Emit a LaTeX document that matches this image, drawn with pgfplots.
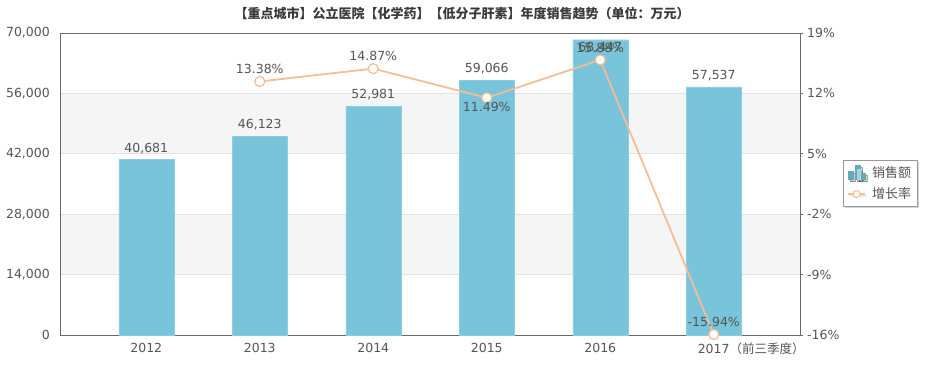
\documentclass[border=0pt]{standalone}
\usepackage{fontspec}
\setmainfont{DejaVu Sans}
\newfontfamily\cjk{Noto Sans CJK SC}
\usepackage{pgfplots}
\pgfplotsset{compat=1.18}
\usetikzlibrary{shadows}
\definecolor{barc}{HTML}{78C4DA}
\definecolor{linec}{HTML}{F5BD95}
\definecolor{txt}{HTML}{555555}
\definecolor{axc}{HTML}{6A6A6A}
\definecolor{gridc}{HTML}{E2E2E2}
\definecolor{band}{HTML}{F5F5F5}
\pgfplotsset{base/.style={at={(60pt,33pt)}, anchor=south west, width=740pt, height=302pt, scale only axis,
  xmin=-0.76, xmax=5.76}}
\begin{document}
\begin{tikzpicture}
\path[use as bounding box] (0pt,0pt) rectangle (925pt,368pt);
\node[font=\cjk\bfseries\fontsize{13}{15}\selectfont, text=txt!70!black] at (462pt,354pt) {【重点城市】公立医院【化学药】【低分子肝素】年度销售趋势（单位：万元）};
\begin{axis}[base, ymin=0, ymax=70000, hide axis]
\addplot[fill=band, draw=none] coordinates {(-0.76,14000) (5.76,14000) (5.76,28000) (-0.76,28000)} -- cycle;
\addplot[fill=band, draw=none] coordinates {(-0.76,42000) (5.76,42000) (5.76,56000) (-0.76,56000)} -- cycle;
\end{axis}
\begin{axis}[base, ymin=0, ymax=70000,
  ytick={0,14000,28000,42000,56000,70000},
  ytick pos=left, xtick pos=bottom,
  xtick={0,1,2,3,4,5},
  xticklabels={2012,2013,2014,2015,2016,{\makebox[0pt][l]{\hspace{-16pt}2017\cjk（前三季度）}}},
  major tick length=0pt,
  ymajorgrids, grid style={gridc, line width=0.8pt},
  axis line style={axc, line width=1pt},
  tick label style={font=\fontsize{12.5}{14}\selectfont, text=txt},
  yticklabel style={inner sep=0pt, xshift=-10pt, /pgf/number format/.cd, fixed, 1000 sep={,}, assume math mode=true},
  xticklabel style={inner sep=0pt, yshift=-8pt},
  scaled y ticks=false,
]
\addplot[ybar, bar width=55pt, fill=barc, draw=barc!85!white] coordinates {(0,40681) (1,46123) (2,52981) (3,59066) (4,68447) (5,57537)};
\addplot[only marks, mark=none, nodes near coords={\pgfmathprintnumber[fixed,1000 sep={,},assume math mode=true]{\pgfplotspointmeta}},
  point meta=y, nodes near coords style={font=\fontsize{12.5}{14}\selectfont, text=txt, anchor=south, yshift=2.5pt}]
  coordinates {(0,40681) (1,46123) (2,52981) (3,59066) (5,57537)};
\addplot[only marks, mark=none, nodes near coords={\pgfmathprintnumber[fixed,1000 sep={,},assume math mode=true]{\pgfplotspointmeta}},
  point meta=y, nodes near coords style={font=\fontsize{12.5}{14}\selectfont, text=txt, anchor=north, yshift=1pt}]
  coordinates {(4,68447)};
\end{axis}
\begin{axis}[base,
  clip=false,
  ymin=-16, ymax=19,
  axis y line*=right, axis x line=none,
  ytick={-16,-9,-2,5,12,19},
  yticklabels={-16\%,-9\%,-2\%,5\%,12\%,19\%},
  tick align=outside, major tick length=3pt,
  ytick style={axc, line width=1pt},
  axis line style={axc, line width=1pt},
  tick label style={font=\fontsize{12.5}{14}\selectfont, text=txt},
  yticklabel style={inner sep=0pt, xshift=4pt},
  legend style={at={(1.058,0.579)}, anchor=north west, draw=gray!80, fill=white,
    font=\cjk\fontsize{13}{15}\selectfont, text=txt, inner xsep=4pt, inner ysep=4pt, row sep=5pt, column sep=4pt,
    drop shadow={shadow xshift=2pt, shadow yshift=-2pt, opacity=0.35}},
  legend cell align=left,
]
\addlegendimage{legend image code/.code={
  \fill[barc!85!black] (0pt,-7pt) rectangle (5pt,1pt);
  \fill[barc!85!black] (7pt,-7pt) rectangle (12pt,7pt);
  \fill[barc!70!white] (9pt,-7pt) rectangle (12pt,3pt);
  \fill[barc!85!black] (13pt,-7pt) rectangle (17pt,-1pt);
}}
\addlegendentry{销售额}
\addlegendimage{linec, line width=1.8pt, mark=*, mark options={fill=white, draw=linec, line width=1pt}, mark size=3.5pt}
\addlegendentry{增长率}
\addplot[forget plot, linec, line width=1.8pt, mark=*, mark options={fill=white, draw=linec, line width=1.2pt}, mark size=5pt]
  coordinates {(1,13.38) (2,14.87) (3,11.49) (4,15.88) (5,-15.94)};
\addplot[forget plot, only marks, mark=none, nodes near coords={\pgfmathprintnumber[fixed,fixed zerofill,precision=2,assume math mode=true]{\pgfplotspointmeta}\%},
  point meta=y, nodes near coords style={font=\fontsize{12.5}{14}\selectfont, text=txt, anchor=south, yshift=4pt}]
  coordinates {(1,13.38) (2,14.87) (4,15.88) (5,-15.94)};
\addplot[forget plot, only marks, mark=none, nodes near coords={\pgfmathprintnumber[fixed,fixed zerofill,precision=2,assume math mode=true]{\pgfplotspointmeta}\%},
  point meta=y, nodes near coords style={font=\fontsize{12.5}{14}\selectfont, text=txt, anchor=north, yshift=-1pt}]
  coordinates {(3,11.49)};
\end{axis}
\end{tikzpicture}
\end{document}
